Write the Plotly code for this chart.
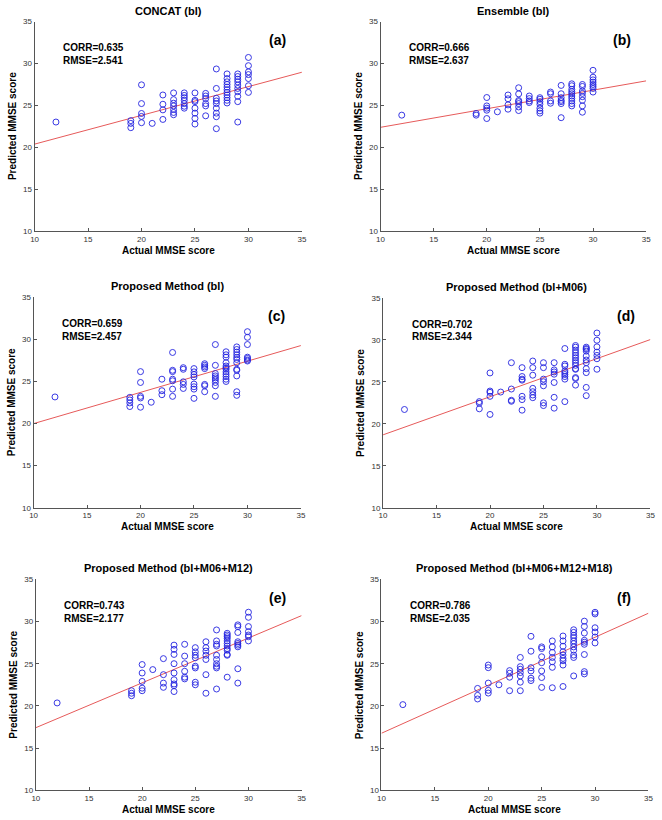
import plotly.graph_objects as go

# Actual MMSE score levels (x positions of the point columns)
levels = [12, 19, 20, 21, 22, 23, 24, 25, 26, 27, 28, 29, 30]

# Predicted MMSE scores per level, for each panel
pred_a = [
    [23.03],
    [23.2, 22.87, 22.36],
    [27.46, 25.23, 24.05, 23.7, 22.95],
    [22.87],
    [26.25, 25.15, 24.48, 23.34],
    [26.5, 25.7, 25.27, 24.95, 24.52, 24.17, 23.9],
    [26.5, 26.2, 25.93, 25.62, 25.23, 24.91, 24.68],
    [26.5, 25.62, 25.46, 24.68, 24.09, 23.46, 22.79],
    [26.44, 26.13, 25.82, 25.23, 24.95, 23.77],
    [29.35, 27.03, 25.86, 25.54, 25.23, 24.68, 24.09, 23.66, 22.24],
    [28.76, 28.21, 27.82, 27.5, 27.19, 26.88, 26.56, 26.25, 25.93, 25.62, 25.3],
    [28.76, 28.45, 28.13, 27.82, 27.43, 27.03, 26.64, 26.09, 25.46, 23.03],
    [30.72, 29.74, 29.0, 28.68, 28.21, 27.35, 26.56],
]
pred_b = [
    [23.85],
    [24.05, 23.85],
    [25.95, 24.95, 24.68, 24.44, 23.45],
    [24.25],
    [26.25, 25.8, 25.07, 24.56],
    [27.11, 26.38, 25.6, 25.46, 25.23, 24.83, 24.4],
    [26.13, 25.82, 25.54, 25.35],
    [25.93, 25.74, 25.46, 25.15, 24.68, 24.36, 24.09],
    [26.6, 26.4, 25.54, 25.27],
    [27.39, 26.4, 25.93, 25.62, 25.46, 25.23, 23.55],
    [27.58, 27.35, 26.92, 26.64, 26.4, 26.13, 25.86, 25.54, 25.23, 24.95],
    [27.5, 27.27, 26.72, 26.44, 26.05, 25.62, 24.95, 24.2],
    [29.19, 28.37, 28.05, 27.78, 27.5, 27.27, 27.03, 26.6],
]
pred_c = [
    [23.17],
    [23.12, 22.81, 22.46, 22.03],
    [26.18, 24.89, 23.24, 23.05, 21.95],
    [22.54],
    [25.28, 23.91, 23.44],
    [28.46, 26.34, 26.18, 25.28, 25.09, 24.1, 23.24],
    [26.65, 26.46, 24.97, 24.66, 24.18],
    [26.54, 26.15, 25.83, 25.55, 24.7, 24.38, 24.1, 23.0],
    [27.12, 26.93, 26.73, 26.54, 24.66, 24.5, 23.79],
    [29.4, 26.93, 25.95, 25.67, 25.44, 25.2, 24.89, 24.5, 23.24],
    [28.54, 28.18, 27.9, 27.24, 26.85, 26.65, 26.46, 26.15, 25.87, 25.59, 25.28, 25.01],
    [29.12, 28.81, 28.5, 28.18, 27.87, 27.63, 27.24, 26.46, 26.34, 25.67, 23.79, 23.36],
    [30.93, 30.26, 29.4, 27.9, 27.75, 27.56, 27.44],
]
pred_d = [
    [21.71],
    [22.65, 22.46, 21.79],
    [26.07, 23.91, 23.75, 23.28, 21.12],
    [23.79],
    [27.29, 24.15, 22.81, 22.69],
    [26.7, 25.64, 25.33, 25.21, 23.28, 22.89, 21.63],
    [27.49, 26.7, 25.8, 24.23, 23.83, 23.44, 23.12],
    [27.29, 26.7, 25.33, 25.02, 24.54, 22.5, 22.18],
    [27.29, 26.43, 26.19, 25.92, 24.93, 23.16, 21.87],
    [28.98, 27.1, 26.9, 26.31, 26.11, 25.88, 25.64, 25.33, 22.65],
    [29.34, 29.14, 28.79, 28.47, 28.16, 27.88, 27.57, 27.29, 26.98, 26.58, 26.5, 25.52, 25.4, 24.62],
    [29.14, 28.98, 28.87, 28.67, 28.08, 27.61, 27.29, 26.58, 26.11, 24.34, 23.36],
    [30.83, 29.97, 29.18, 28.55, 28.16, 27.76, 26.51],
]
pred_e = [
    [20.35],
    [21.8, 21.5, 21.2],
    [24.9, 23.9, 22.9, 22.1, 21.8],
    [24.3],
    [25.6, 23.7, 22.7, 22.2],
    [27.2, 26.7, 26.1, 25.0, 23.9, 23.1, 22.6, 22.4, 21.7],
    [27.3, 25.9, 25.0, 24.1, 23.4, 23.2],
    [26.9, 26.4, 26.0, 25.7, 24.7, 24.5, 22.8, 22.5],
    [27.6, 26.9, 26.5, 26.0, 25.5, 23.7, 21.5],
    [29.0, 27.7, 27.3, 27.1, 26.0, 25.5, 25.0, 24.7, 24.5, 22.0],
    [28.6, 28.4, 28.2, 28.0, 27.7, 27.4, 27.1, 26.8, 26.6, 26.1, 26.0, 23.4],
    [29.6, 29.4, 28.7, 27.6, 27.4, 27.2, 27.0, 24.4, 22.7],
    [31.1, 30.5, 29.4, 28.8, 28.4, 28.2, 27.7],
]
pred_f = [
    [20.15],
    [22.07, 21.25, 20.82],
    [24.84, 24.53, 22.7, 21.84, 21.52],
    [22.5],
    [24.18, 23.87, 23.4, 21.8],
    [25.74, 24.65, 24.34, 23.95, 23.55, 22.81, 21.8],
    [28.24, 26.48, 24.53, 24.14, 23.28, 23.0],
    [26.99, 26.8, 25.82, 25.12, 24.14, 23.36, 22.19],
    [27.7, 26.99, 26.33, 25.74, 25.23, 24.57, 22.15],
    [28.28, 27.7, 27.07, 26.41, 26.02, 25.63, 25.35, 24.84, 22.3],
    [29.02, 28.71, 28.36, 28.09, 27.7, 27.38, 26.99, 26.6, 26.02, 25.74, 23.55],
    [30.04, 29.41, 28.63, 27.77, 27.54, 27.3, 26.09, 24.06, 23.79],
    [31.09, 30.9, 29.26, 28.75, 28.16, 27.46],
]

# Regression line end values (at x = 10 and x = 35)
fit_x = [10, 35]
fit_a = [20.4, 28.96]
fit_b = [22.4, 27.93]
fit_c = [20.0, 29.28]
fit_d = [18.69, 30.05]
fit_e = [17.42, 30.7]
fit_f = [16.76, 30.98]

titles = ["CONCAT (bl)", "Ensemble (bl)", "Proposed Method (bl)",
          "Proposed Method (bl+M06)", "Proposed Method (bl+M06+M12)",
          "Proposed Method (bl+M06+M12+M18)"]
corr = ["0.635", "0.666", "0.659", "0.702", "0.743", "0.786"]
rmse = ["2.541", "2.637", "2.457", "2.344", "2.177", "2.035"]
labels = ["(a)", "(b)", "(c)", "(d)", "(e)", "(f)"]
tick_vals = [10, 15, 20, 25, 30, 35]

preds = [pred_a, pred_b, pred_c, pred_d, pred_e, pred_f]
fits = [fit_a, fit_b, fit_c, fit_d, fit_e, fit_f]

W, H = 662, 820
# plot-area pixel boxes (left, right, top, bottom)
boxes = [
    (31, 302, 17.7, 230), (381.7, 651, 17.7, 230),
    (30, 301, 296.7, 509.3), (384.3, 655.3, 297.3, 509.3),
    (32.3, 301.7, 581.7, 795), (382.7, 653.3, 581.7, 795),
]

FONT = "Arial, Liberation Sans, sans-serif"
fig = go.Figure()
layout = {}
annotations = []

for i in range(6):
    n = "" if i == 0 else str(i + 1)
    xs, ys = [], []
    for lv, vals in zip(levels, preds[i]):
        for v in vals:
            xs.append(lv)
            ys.append(v)
    fig.add_trace(go.Scatter(
        x=fit_x, y=fits[i], mode="lines",
        line=dict(color="#e65a5a", width=1),
        xaxis="x" + n, yaxis="y" + n, showlegend=False, hoverinfo="skip"))
    fig.add_trace(go.Scatter(
        x=xs, y=ys, mode="markers",
        marker=dict(symbol="circle-open", size=6, color="#2424e0",
                    line=dict(width=0.9, color="#2424e0")),
        xaxis="x" + n, yaxis="y" + n, showlegend=False))
    l, r, t, b = boxes[i]
    axstyle = dict(range=[10, 35], tickvals=tick_vals, showgrid=False,
                   zeroline=False, showline=True, linecolor="#555",
                   linewidth=1, ticks="inside", ticklen=3, tickcolor="#555",
                   tickfont=dict(family=FONT, size=8, color="#333"))
    layout["xaxis" + n] = dict(axstyle, domain=[l / W, r / W],
                               anchor="y" + n, ticklabeloverflow="allow")
    layout["yaxis" + n] = dict(axstyle, domain=[1 - b / H, 1 - t / H],
                               anchor="x" + n)
    xr = ("x" + n) if n else "x"
    yr = ("y" + n) if n else "y"
    annotations += [
        dict(text="<b>%s</b>" % titles[i], xref=xr + " domain", yref=yr + " domain",
             x=0.5, y=1, yshift=11, yanchor="middle", showarrow=False,
             borderpad=0,
             font=dict(family=FONT, size=11, color="#000")),
        dict(text="<b>Actual MMSE score</b>", xref=xr + " domain", yref=yr + " domain",
             x=0.5, y=0, yshift=-19, yanchor="middle", showarrow=False,
             borderpad=0,
             font=dict(family=FONT, size=10, color="#000")),
        dict(text="<b>Predicted MMSE score</b>", xref=xr + " domain", yref=yr + " domain",
             x=0, y=0.5, xshift=-22, xanchor="center", textangle=-90,
             borderpad=0,
             showarrow=False, font=dict(family=FONT, size=10, color="#000")),
        dict(text="<b>CORR=%s</b>" % corr[i], xref=xr, yref=yr, x=12.5, y=31.85,
             xanchor="left", yanchor="middle", showarrow=False,
             font=dict(family=FONT, size=10, color="#000")),
        dict(text="<b>RMSE=%s</b>" % rmse[i], xref=xr, yref=yr, x=12.5, y=30.4,
             xanchor="left", yanchor="middle", showarrow=False,
             font=dict(family=FONT, size=10, color="#000")),
        dict(text="<b>%s</b>" % labels[i], xref=xr, yref=yr, x=32.7, y=32.8,
             xanchor="center", yanchor="middle", showarrow=False,
             font=dict(family=FONT, size=14, color="#000")),
    ]

fig.update_layout(
    width=W, height=H, margin=dict(l=0, r=0, t=0, b=0),
    paper_bgcolor="white", plot_bgcolor="white",
    annotations=annotations, **layout)
# remove the default page margin so the figure sits at the window's corner
fig.write_html("out.html", config={"displayModeBar": False},
               post_script="document.body.style.margin='0px';")
